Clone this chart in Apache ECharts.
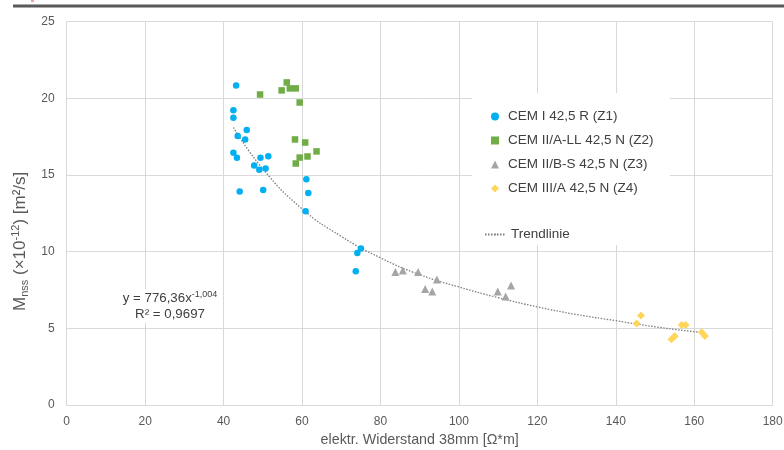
<!DOCTYPE html>
<html>
<head>
<meta charset="utf-8">
<title>Mnss vs elektr. Widerstand</title>
<script src="https://cdn.jsdelivr.net/npm/echarts@6/dist/echarts.min.js"></script>
<style>
  html, body { margin: 0; padding: 0; background: #fff; }
  #chart { width: 784px; height: 450px; }
</style>
</head>
<body>
<div id="chart"></div>
<script>
// Messwerte [Widerstand, Mnss]
var z1Data = [
  [43.2, 20.84], [42.5, 19.23], [42.5, 18.73], [45.9, 17.93], [43.6, 17.54],
  [45.5, 17.32], [42.5, 16.45], [43.4, 16.12], [49.4, 16.12], [51.4, 16.23],
  [47.8, 15.62], [49.1, 15.34], [50.7, 15.43], [61.1, 14.73], [44.1, 13.92],
  [50.1, 14.03], [61.6, 13.82], [60.9, 12.64], [75.0, 10.2], [74.1, 9.92],
  [73.7, 8.72]
];
var z2Data = [
  [56.1, 21.04], [54.8, 20.52], [56.9, 20.65], [58.4, 20.65], [49.3, 20.25],
  [59.4, 19.73], [58.2, 17.32], [60.8, 17.12], [63.7, 16.54], [61.4, 16.21],
  [59.4, 16.14], [58.4, 15.75]
];
var z3Data = [
  [83.8, 8.68], [85.7, 8.77], [89.6, 8.68], [94.4, 8.18], [91.4, 7.57],
  [93.2, 7.40], [109.9, 7.40], [113.3, 7.79], [111.9, 7.07]
];
var z4Data = [
  [146.4, 5.83], [145.3, 5.31], [156.8, 5.22], [157.8, 5.22], [155.0, 4.48],
  [154.2, 4.29], [161.9, 4.74], [162.7, 4.50]
];
// Trendlinie
var trendData = [
  [42.5, 18.1], [50, 15.4], [60, 12.8], [70, 11.0], [80, 9.6], [90, 8.5],
  [100, 7.7], [110, 7.0], [120, 6.4], [130, 5.9], [140, 5.5], [150, 5.1],
  [162.7, 4.7]
];
var seriesNames = [
  'CEM I 42,5 R (Z1)',
  'CEM II/A-LL 42,5 N (Z2)',
  'CEM II/B-S 42,5 N (Z3)',
  'CEM III/A 42,5 N (Z4)'
];
var trendName = 'Trendlinie';

var chart = echarts.init(document.getElementById('chart'));
var fontFamily = '"Liberation Sans", Arial, sans-serif';
var gridColor = '#d9d9d9';
var labelColor = '#595959';
var textColor = '#404040';

var option = {
  animation: false,
  textStyle: { fontFamily: fontFamily },
  grid: { left: 66.7, right: 11.3, top: 21.7, bottom: 45, outerBoundsMode: 'none' },
  xAxis: {
    type: 'value', min: 0, max: 180, interval: 20,
    name: 'elektr. Widerstand 38mm [Ω*m]',
    nameLocation: 'middle', nameGap: 26,
    nameTextStyle: { color: labelColor, fontSize: 14.3, fontFamily: fontFamily },
    axisLine: { show: true, lineStyle: { color: gridColor, width: 1 } },
    axisTick: { show: false },
    axisLabel: { color: labelColor, fontSize: 12, margin: 11, fontFamily: fontFamily },
    splitLine: { show: true, lineStyle: { color: gridColor, width: 1 } }
  },
  yAxis: {
    type: 'value', min: 0, max: 25, interval: 5,
    name: '{n|M}{sub|nss}{n| (×10}{sup|-12}{n|) [m²/s]}',
    nameLocation: 'middle', nameGap: 36, nameRotate: 90,
    nameTextStyle: {
      color: labelColor, padding: [0, 56, 0, 0],
      rich: {
        n: { fontSize: 17, color: labelColor, lineHeight: 20, fontFamily: fontFamily },
        sub: { fontSize: 11, color: labelColor, lineHeight: 20, verticalAlign: 'bottom', fontFamily: fontFamily },
        sup: { fontSize: 11, color: labelColor, lineHeight: 20, verticalAlign: 'top', fontFamily: fontFamily }
      }
    },
    axisLine: { show: false },
    axisTick: { show: false },
    axisLabel: { color: labelColor, fontSize: 12, margin: 12, fontFamily: fontFamily },
    splitLine: { show: true, lineStyle: { color: gridColor, width: 1 } }
  },
  legend: [
    {
      orient: 'vertical', left: 472, top: 94,
      padding: [15, 10, 10, 19],
      itemWidth: 8, itemHeight: 8, itemGap: 9,
      selectedMode: false,
      textStyle: { color: textColor, fontSize: 13.5, lineHeight: 15, padding: [0, 0, 0, 4], fontFamily: fontFamily },
      data: [
        { name: seriesNames[0], icon: 'circle' },
        { name: seriesNames[1], icon: 'rect' },
        { name: seriesNames[2], icon: 'triangle' },
        { name: seriesNames[3], icon: 'diamond' }
      ],
      z: 5
    },
    {
      orient: 'vertical', left: 472, top: 221,
      padding: [6, 10, 5, 12],
      itemWidth: 21, itemHeight: 2,
      selectedMode: false,
      textStyle: { color: textColor, fontSize: 13.5, lineHeight: 15, fontFamily: fontFamily },
      data: [{ name: trendName }],
      z: 5
    }
  ],
  series: [
    {
      name: trendName, type: 'line', data: trendData, smooth: true,
      symbol: 'none', showSymbol: false, z: 1,
      lineStyle: { color: '#7f7f7f', width: 1.3, type: [1.5, 1.5] },
      itemStyle: { color: '#7f7f7f' }
    },
    {
      name: seriesNames[0], type: 'scatter', data: z1Data, symbol: 'circle', symbolSize: 6.5, z: 3,
      itemStyle: { color: '#00b0f0', opacity: 1 }
    },
    {
      name: seriesNames[1], type: 'scatter', data: z2Data, symbol: 'rect', symbolSize: 6.5, z: 3,
      itemStyle: { color: '#70ad47', opacity: 1 }
    },
    {
      name: seriesNames[2], type: 'scatter', data: z3Data, symbol: 'triangle', symbolSize: 8, z: 3,
      itemStyle: { color: '#a5a5a5', opacity: 1 }
    },
    {
      name: seriesNames[3], type: 'scatter', data: z4Data, symbol: 'diamond', symbolSize: 8, z: 3,
      itemStyle: { color: '#ffd55a', opacity: 1 }
    }
  ],
  graphic: [
    {
      // weisser Hintergrund der Legende
      type: 'rect', left: 472, top: 93, z: 2,
      shape: { width: 198, height: 152 },
      style: { fill: '#fff' }
    },
    {
      type: 'rect', left: 13, top: 4.5, z: 10,
      shape: { width: 771, height: 3 },
      style: { fill: '#595959' }
    },
    {
      type: 'rect', left: 31, top: 0, z: 10,
      shape: { width: 3, height: 2 },
      style: { fill: '#f4a0a0' }
    },
    {
      type: 'text', x: 170, y: 306, z: 10,
      style: {
        text: '{a|y = 776,36x}{s|-1,004}\n{a|R² = 0,9697}',
        align: 'center', verticalAlign: 'middle',
        backgroundColor: '#fff', padding: [1, 3],
        rich: {
          a: { fontSize: 13.3, fill: textColor, color: textColor, lineHeight: 16, fontFamily: fontFamily },
          s: { fontSize: 9, fill: textColor, color: textColor, lineHeight: 16, verticalAlign: 'top', fontFamily: fontFamily }
        }
      }
    }
  ]
};

chart.setOption(option);
</script>
</body>
</html>
